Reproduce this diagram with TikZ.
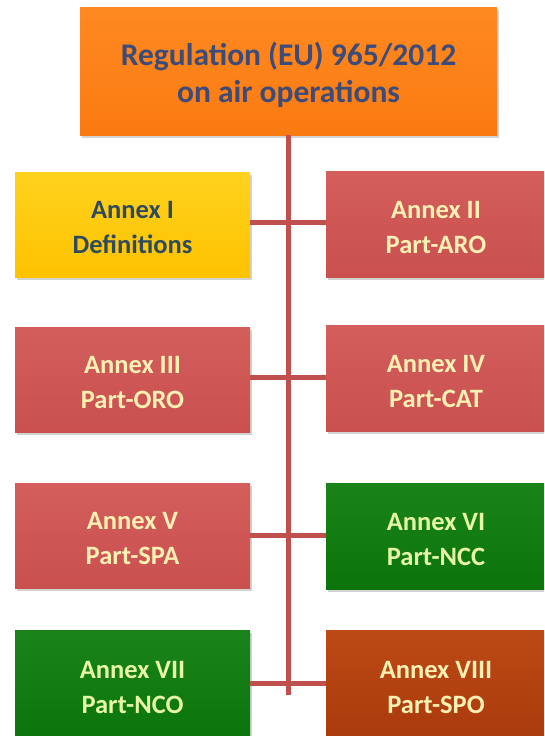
\documentclass[tikz,border=0pt]{standalone}
\usepackage{fontspec}
\setmainfont{Carlito}
\usetikzlibrary{shadows}
\definecolor{topor}{HTML}{FA7A12}
\definecolor{topor2}{HTML}{FF8A20}
\definecolor{toptext}{HTML}{3D4B78}
\definecolor{redbox}{HTML}{C9504F}
\definecolor{redbox2}{HTML}{D35E5C}
\definecolor{yelbox}{HTML}{FDC200}
\definecolor{yelbox2}{HTML}{FFD21E}
\definecolor{yeltext}{HTML}{2E4A5C}
\definecolor{grnbox}{HTML}{0B740B}
\definecolor{grnbox2}{HTML}{1A841A}
\definecolor{brnbox}{HTML}{A93A0A}
\definecolor{brnbox2}{HTML}{BC4A16}
\definecolor{creamtext}{HTML}{FFF0B4}
\definecolor{grntext}{HTML}{E6F7A6}
\definecolor{linered}{HTML}{C0504D}
\tikzset{
  box/.style={rectangle, inner sep=0pt,
    drop shadow={opacity=0.35, shadow xshift=1.5pt, shadow yshift=-2.5pt}},
  boxtext/.style={inner sep=0pt, align=center, yshift=-3pt, font=\bfseries\fontsize{26.5}{35}\selectfont},
  leftbox/.style={box, minimum width=235pt, minimum height=105pt},
  rightbox/.style={box, minimum width=220pt, minimum height=106pt},
  redfill/.style={top color=redbox2, bottom color=redbox},
  yelfill/.style={top color=yelbox2, bottom color=yelbox},
  grnfill/.style={top color=grnbox2, bottom color=grnbox},
  brnfill/.style={top color=brnbox2, bottom color=brnbox},
  conn/.style={draw=linered, line width=5pt}
}
\begin{document}
\begin{tikzpicture}[x=1pt,y=1pt]
\useasboundingbox (0,0) rectangle (544,-736);
\clip (0,0) rectangle (544,-736);
\fill[white] (0,0) rectangle (544,-736);
\node[box, minimum width=417pt, minimum height=128pt, top color=topor2, bottom color=topor,
  label={[boxtext, yshift=-1pt, text=toptext, font=\bfseries\fontsize{31.5}{37}\selectfont]center:Regulation (EU) 965/2012\\on air operations}] (top) at (288.5,-71) {};
\coordinate (vend) at (288,-695);
\draw[conn] (top.south -| vend) -- (vend);
\node[leftbox, yelfill, label={[boxtext, text=yeltext]center:Annex I\\Definitions}] (a1) at (132.5,-224.5) {};
\node[rightbox, redfill, label={[boxtext, text=creamtext]center:Annex II\\Part-ARO}] (a2) at (436,-224.5) {};
\node[leftbox, redfill, label={[boxtext, text=creamtext]center:Annex III\\Part-ORO}] (a3) at (132.5,-379.5) {};
\node[rightbox, redfill, label={[boxtext, text=creamtext]center:Annex IV\\Part-CAT}] (a4) at (436,-378.5) {};
\node[leftbox, redfill, label={[boxtext, text=creamtext]center:Annex V\\Part-SPA}] (a5) at (132.5,-535.5) {};
\node[rightbox, grnfill, label={[boxtext, text=grntext]center:Annex VI\\Part-NCC}] (a6) at (436,-536.5) {};
\node[leftbox, grnfill, minimum height=110pt, label={[boxtext, yshift=1pt, text=grntext]center:Annex VII\\Part-NCO}] (a7) at (132.5,-685) {};
\node[rightbox, brnfill, minimum height=110pt, label={[boxtext, yshift=1pt, text=creamtext]center:Annex VIII\\Part-SPO}] (a8) at (436,-685) {};
\draw[conn] (a1.east |- 0,-222) -- (a2.west |- 0,-222);
\draw[conn] (a3.east |- 0,-377) -- (a4.west |- 0,-377);
\draw[conn] (a5.east |- 0,-535) -- (a6.west |- 0,-535);
\draw[conn] (a7.east |- 0,-683) -- (a8.west |- 0,-683);
\end{tikzpicture}
\end{document}
